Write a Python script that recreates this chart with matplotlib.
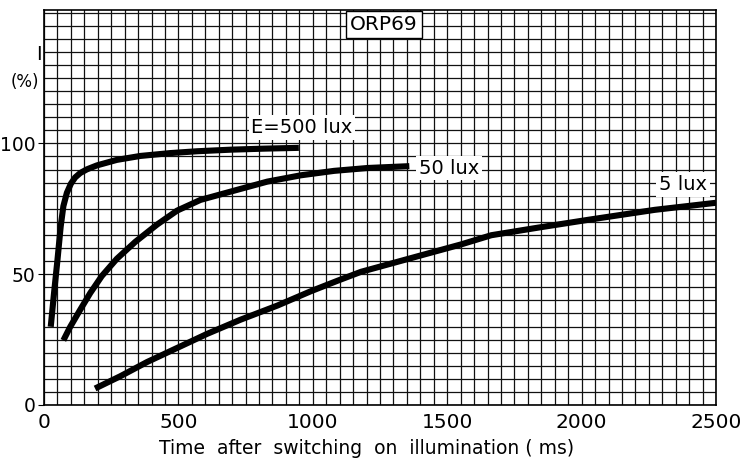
import numpy as np
import matplotlib
matplotlib.use("Agg")
import matplotlib.pyplot as plt

# curves (time in ms, relative photocurrent in %)
t_500 = [25, 37, 50, 62, 72, 85, 100, 116, 135, 160, 197, 271, 358, 470, 570, 694, 820, 948]
i_500 = [29.9, 42.5, 55.4, 68.2, 76.0, 81.1, 84.6, 87.0, 88.7, 90.1, 91.6, 93.7, 95.2, 96.3, 97.0, 97.6, 98.0, 98.3]

t_50 = [72, 97, 134, 172, 215, 271, 340, 421, 495, 582, 706, 831, 955, 1079, 1204, 1359]
i_50 = [24.7, 29.8, 36.3, 42.8, 49.3, 55.9, 62.4, 69.0, 74.3, 78.4, 81.9, 85.4, 87.8, 89.5, 90.6, 91.3]

t_5 = [190, 284, 383, 495, 607, 731, 868, 993, 1092, 1179, 1328, 1552, 1664, 1838, 2025, 2272, 2500]
i_5 = [6.3, 11.0, 16.4, 21.8, 27.2, 32.6, 38.0, 43.5, 47.5, 50.9, 55.1, 61.4, 64.9, 67.8, 70.8, 74.6, 77.3]

x_ticks = [0, 500, 1000, 1500, 2000, 2500]
y_ticks = [0, 50, 100]

fig = plt.figure(figsize=(7.41, 4.67), dpi=100)
ax = fig.add_axes([0.0594, 0.1328, 0.9069, 0.8458])

ax.set_xlim(0, 2500)
ax.set_ylim(0, 151)
ax.set_xticks(x_ticks)
ax.set_yticks(y_ticks)
ax.set_xticks(np.arange(0, 2501, 50), minor=True)
ax.set_yticks(np.arange(0, 151, 5), minor=True)
ax.grid(True, which="both", color="#111111", linewidth=0.9)
ax.set_axisbelow(True)
for s in ax.spines.values():
    s.set_linewidth(1.2)

ax.tick_params(axis="x", which="major", length=0, pad=6, labelsize=14.5)
ax.tick_params(axis="y", which="major", length=4, pad=2, labelsize=13.5)
ax.tick_params(which="minor", length=0)

lw = 4.4
ax.plot(t_500, i_500, color="black", linewidth=lw, solid_capstyle="butt")
ax.plot(t_50, i_50, color="black", linewidth=lw, solid_capstyle="butt")
ax.plot(t_5, i_5, color="black", linewidth=lw, solid_capstyle="butt")

box = dict(facecolor="white", edgecolor="none", pad=2)
ax.text(960, 106, "E=500 lux", fontsize=14, ha="center", va="center", bbox=box)
ax.text(1395, 90.5, "50 lux", fontsize=14, ha="left", va="center", bbox=box)
ax.text(2377, 84.3, "5 lux", fontsize=14, ha="center", va="center", bbox=box)
ax.text(1265, 145.4, "ORP69", fontsize=14.5, ha="center", va="center",
        bbox=dict(facecolor="white", edgecolor="black", linewidth=1, pad=3))

fig.text(39 / 741, 1 - 55 / 467, "I", fontsize=14, ha="center", va="center")
fig.text(25 / 741, 1 - 82 / 467, "(%)", fontsize=12, ha="center", va="center")
fig.text(367 / 741, 1 - 449 / 467, "Time  after  switching  on  illumination ( ms)",
         fontsize=13.5, ha="center", va="center")

fig.savefig("out.png", dpi=100, facecolor="white")
